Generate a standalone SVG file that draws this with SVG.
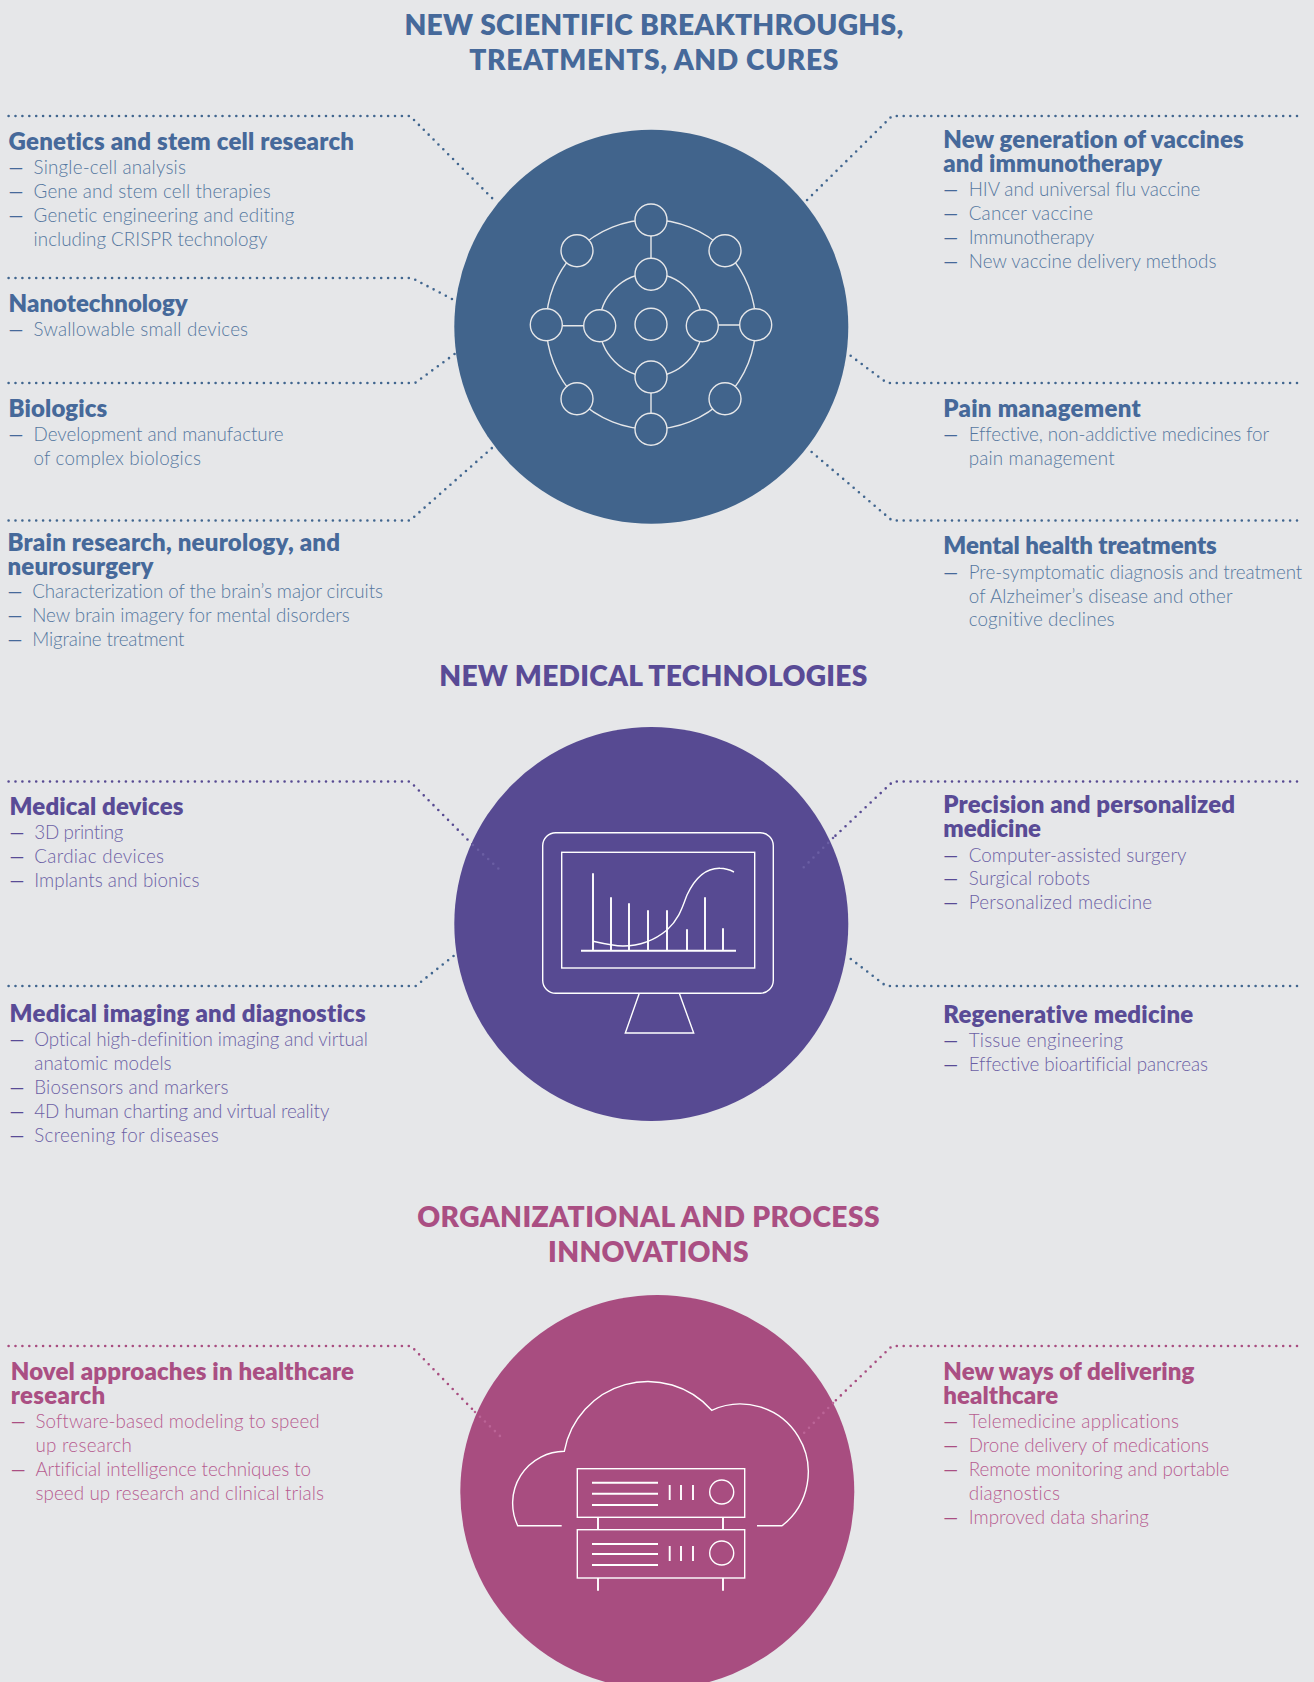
<svg xmlns="http://www.w3.org/2000/svg" width="1314" height="1682" viewBox="0 0 1314 1682">
<style>
text{font-family:"Lato","Open Sans","Liberation Sans",sans-serif;font-variant-ligatures:none}
.t{font-size:28.2px;font-weight:800;text-anchor:middle}
.h{font-size:24px;font-weight:800}
.b{font-size:18.8px;font-weight:300;transform:translateY(.6px)}
.d{font-size:18.8px;font-weight:400;transform:translateY(.6px)}
.blue{fill:#46699a}.pur{fill:#594b96}.pnk{fill:#aa4f83}
.blue.b{fill:#5577a0}.pur.b{fill:#6b5fa5}.pnk.b{fill:#b65c90}
.c{fill:none;stroke-width:2.6;stroke-linecap:round;stroke-dasharray:0 6.9}
.i{fill:none;stroke:#e6e7e9;stroke-width:1.4}
.n{fill:#41648c;stroke:#e6e7e9;stroke-width:1.4}
.w{fill:none;stroke:#fff;stroke-width:1.4}
.w2{fill:none;stroke:#fff;stroke-width:1.9}
</style>
<rect width="1314" height="1682" fill="#e6e7e9"/>
<g id="connectors">
<g stroke="#41668f" class="c">
<path d="M8.6 116H410L496 202"/><path d="M8.6 278H412L452 299"/><path d="M8.6 383H415L456 353"/><path d="M8.6 520.5H410L492 448"/>
<path d="M1297 116H892L805 202"/><path d="M1297 383H887L847 353"/><path d="M1297 520.5H892L807 448"/>
<path d="M8.6 986H415.7L456 954"/><path d="M1297 986H886L847 956"/>
</g>
<g stroke="#574a92" class="c">
<path d="M8.6 781.5H410L473 845"/><path d="M1297 781.5H893L833 838"/>
</g>
<g stroke="#a84d80" class="c">
<path d="M8.6 1346H411L475 1412"/><path d="M1297 1346H892L833 1403"/>
</g>
</g>
<g id="node-breakthroughs">
<circle cx="651.3" cy="326.7" r="197" fill="#41648c"/>
<g class="i">
<circle cx="651" cy="324.5" r="104.7"/><circle cx="651" cy="325" r="51.5"/>
<path d="M651 236V258M651 393V413M562 325.7H584M718 325H740"/>
</g>
<circle class="n" cx="651" cy="220" r="16"/><circle class="n" cx="577" cy="250.7" r="16"/><circle class="n" cx="725" cy="250.7" r="16"/><circle class="n" cx="651" cy="274.3" r="16"/>
<circle class="n" cx="546.3" cy="324.7" r="16"/><circle class="n" cx="599.7" cy="325.7" r="16"/><circle class="n" cx="651" cy="324.3" r="16"/><circle class="n" cx="702.3" cy="325.7" r="16"/><circle class="n" cx="755.7" cy="324.7" r="16"/>
<circle class="n" cx="651" cy="377" r="16"/><circle class="n" cx="577" cy="398.7" r="16"/><circle class="n" cx="725" cy="398.7" r="16"/><circle class="n" cx="651" cy="429.3" r="16"/>
</g>
<g id="node-technologies">
<circle cx="651.3" cy="924" r="197" fill="#574a92"/>
<g stroke="#6a5ea3" class="c"><path d="M473 845L500 870"/><path d="M833 838L803 868"/></g>
<g class="w">
<rect x="542.7" y="832.7" width="230.6" height="160.6" rx="13"/>
<rect x="561.7" y="852.3" width="193" height="115.7"/>
<path d="M639.3 993.3L625.3 1033H693.7L679.3 993.3"/>
<path d="M593 941.3C605 944 615 946 623 946C640 946 655 940 667 930C680 918 683 905 687 895C696 876 708 868 720 868.3C725 868.3 730 870 734 872"/>
</g>
<path class="w2" d="M581 950.7H736M593 950.7V873.3M611 950.7V897.3M629 950.7V903.3M648 950.7V910.3M667 950.7V910.3M687 950.7V929.3M705 950.7V897.3M723 950.7V928.3"/>
</g>
<g id="node-innovations">
<circle cx="657.3" cy="1492" r="197" fill="#a84d80"/>
<g stroke="#bb6496" class="c"><path d="M475 1412L500 1436"/><path d="M833 1403L803 1434"/></g>
<path class="w" d="M561.7 1525.7H517.7A52 52 0 0 1 564.3 1451.3A85 85 0 0 1 711.7 1410.3A68 68 0 0 1 782 1525.7H757"/>
<rect class="w" x="577.3" y="1468.7" width="167.4" height="48.6"/><rect class="w" x="577.3" y="1529.7" width="167.4" height="48.3"/>
<circle class="w" cx="721.7" cy="1492" r="12"/><circle class="w" cx="721.7" cy="1553" r="12"/>
<path class="w2" d="M598 1517.3V1529.7M723 1517.3V1529.7M598 1578V1590.7M723 1578V1590.7M592 1482.7H658M592 1493.7H658M592 1505H658M592 1544H658M592 1554H658M592 1565H658M669.7 1485V1500M681 1485V1500M693 1485V1500M669.7 1546V1561M681 1546V1561M693 1546V1561"/>
</g>
<g id="titles">
<text class="t blue" x="653.8" y="35" textLength="498.8">NEW SCIENTIFIC BREAKTHROUGHS,</text>
<text class="t blue" x="653.8" y="69.6" textLength="369">TREATMENTS, AND CURES</text>
<text class="t pur" x="653.3" y="686" textLength="428">NEW MEDICAL TECHNOLOGIES</text>
<text class="t pnk" x="648.4" y="1227" textLength="462.3">ORGANIZATIONAL AND PROCESS</text>
<text class="t pnk" x="648.4" y="1262" textLength="200.6">INNOVATIONS</text>
</g>
<g id="genetics"><text class="h blue" x="8.6" y="150" textLength="345.4">Genetics and stem cell research</text>
<text class="d blue" x="8.4" y="173" textLength="15">—</text><text class="b blue" x="33.6" y="173" textLength="152.3">Single-cell analysis</text>
<text class="d blue" x="8.4" y="197" textLength="15">—</text><text class="b blue" x="33.6" y="197" textLength="237.1">Gene and stem cell therapies</text>
<text class="d blue" x="8.4" y="221" textLength="15">—</text><text class="b blue" x="33.6" y="221" textLength="260.7">Genetic engineering and editing</text>
<text class="b blue" x="33.6" y="245" textLength="233.9">including CRISPR technology</text></g>
<g id="nano"><text class="h blue" x="8.6" y="311.7" textLength="179.1">Nanotechnology</text>
<text class="d blue" x="8.4" y="335" textLength="15">—</text><text class="b blue" x="33.6" y="335" textLength="214.5">Swallowable small devices</text></g>
<g id="biologics"><text class="h blue" x="8.6" y="417" textLength="98.7">Biologics</text>
<text class="d blue" x="8.4" y="440.5" textLength="15">—</text><text class="b blue" x="33.6" y="440.5" textLength="249.9">Development and manufacture</text>
<text class="b blue" x="33.6" y="464.3" textLength="167.3">of complex biologics</text></g>
<g id="brain"><text class="h blue" x="7.5" y="551" textLength="332.5">Brain research, neurology, and</text>
<text class="h blue" x="7.5" y="575" textLength="145.9">neurosurgery</text>
<text class="d blue" x="7.5" y="597.8" textLength="15">—</text><text class="b blue" x="32.2" y="597.8" textLength="350.8">Characterization of the brain’s major circuits</text>
<text class="d blue" x="7.5" y="621.8" textLength="15">—</text><text class="b blue" x="32.2" y="621.8" textLength="317.5">New brain imagery for mental disorders</text>
<text class="d blue" x="7.5" y="645.8" textLength="15">—</text><text class="b blue" x="32.2" y="645.8" textLength="152.3">Migraine treatment</text></g>
<g id="vaccines"><text class="h blue" x="943.3" y="148" textLength="300.4">New generation of vaccines</text>
<text class="h blue" x="943.3" y="171.6" textLength="218.8">and immunotherapy</text>
<text class="d blue" x="943.3" y="195" textLength="15">—</text><text class="b blue" x="968.7" y="195" textLength="231.7">HIV and universal flu vaccine</text>
<text class="d blue" x="943.3" y="219.7" textLength="15">—</text><text class="b blue" x="968.7" y="219.7" textLength="124.4">Cancer vaccine</text>
<text class="d blue" x="943.3" y="243.3" textLength="15">—</text><text class="b blue" x="968.7" y="243.3" textLength="125.5">Immunotherapy</text>
<text class="d blue" x="943.3" y="267" textLength="15">—</text><text class="b blue" x="968.7" y="267" textLength="247.8">New vaccine delivery methods</text></g>
<g id="pain"><text class="h blue" x="943.3" y="417.2" textLength="197.4">Pain management</text>
<text class="d blue" x="943.3" y="440.7" textLength="15">—</text><text class="b blue" x="968.7" y="440.7" textLength="300.4">Effective, non-addictive medicines for</text>
<text class="b blue" x="968.7" y="464.5" textLength="145.9">pain management</text></g>
<g id="mental"><text class="h blue" x="943.3" y="554" textLength="273.5">Mental health treatments</text>
<text class="d blue" x="943.3" y="578" textLength="15">—</text><text class="b blue" x="968.7" y="578" textLength="333.6">Pre-symptomatic diagnosis and treatment</text>
<text class="b blue" x="968.7" y="602" textLength="263.9">of Alzheimer’s disease and other</text>
<text class="b blue" x="968.7" y="625" textLength="145.9">cognitive declines</text></g>
<g id="devices"><text class="h pur" x="9.6" y="815" textLength="173.8">Medical devices</text>
<text class="d pur" x="9.6" y="838.7" textLength="15">—</text><text class="b pur" x="34.3" y="838.7" textLength="89">3D printing</text>
<text class="d pur" x="9.6" y="862" textLength="15">—</text><text class="b pur" x="34.3" y="862" textLength="129.8">Cardiac devices</text>
<text class="d pur" x="9.6" y="886.8" textLength="15">—</text><text class="b pur" x="34.3" y="886.8" textLength="165.2">Implants and bionics</text></g>
<g id="imaging"><text class="h pur" x="9.6" y="1022.2" textLength="356.1">Medical imaging and diagnostics</text>
<text class="d pur" x="9.6" y="1045.2" textLength="15">—</text><text class="b pur" x="34.3" y="1045.2" textLength="333.6">Optical high-definition imaging and virtual</text>
<text class="b pur" x="34.3" y="1069" textLength="137.3">anatomic models</text>
<text class="d pur" x="9.6" y="1093.8" textLength="15">—</text><text class="b pur" x="34.3" y="1093.8" textLength="194.2">Biosensors and markers</text>
<text class="d pur" x="9.6" y="1117.3" textLength="15">—</text><text class="b pur" x="34.3" y="1117.3" textLength="295">4D human charting and virtual reality</text>
<text class="d pur" x="9.6" y="1141.2" textLength="15">—</text><text class="b pur" x="34.3" y="1141.2" textLength="184.5">Screening for diseases</text></g>
<g id="precision"><text class="h pur" x="943.3" y="813" textLength="291.8">Precision and personalized</text>
<text class="h pur" x="943.3" y="836.6" textLength="97.6">medicine</text>
<text class="d pur" x="943.3" y="861" textLength="15">—</text><text class="b pur" x="968.7" y="861" textLength="217.8">Computer-assisted surgery</text>
<text class="d pur" x="943.3" y="884.7" textLength="15">—</text><text class="b pur" x="968.7" y="884.7" textLength="121.2">Surgical robots</text>
<text class="d pur" x="943.3" y="908.3" textLength="15">—</text><text class="b pur" x="968.7" y="908.3" textLength="183.4">Personalized medicine</text></g>
<g id="regenerative"><text class="h pur" x="943.3" y="1023.3" textLength="249.9">Regenerative medicine</text>
<text class="d pur" x="943.3" y="1046.8" textLength="15">—</text><text class="b pur" x="968.7" y="1046.8" textLength="154.5">Tissue engineering</text>
<text class="d pur" x="943.3" y="1070.2" textLength="15">—</text><text class="b pur" x="968.7" y="1070.2" textLength="239.2">Effective bioartificial pancreas</text></g>
<g id="novel"><text class="h pnk" x="10.7" y="1380" textLength="343.3">Novel approaches in healthcare</text>
<text class="h pnk" x="10.7" y="1404" textLength="94.4">research</text>
<text class="d pnk" x="10.7" y="1427.6" textLength="15">—</text><text class="b pnk" x="35.4" y="1427.6" textLength="284.3">Software-based modeling to speed</text>
<text class="b pnk" x="35.4" y="1451.2" textLength="96.5">up research</text>
<text class="d pnk" x="10.7" y="1475.8" textLength="15">—</text><text class="b pnk" x="35.4" y="1475.8" textLength="275.7">Artificial intelligence techniques to</text>
<text class="b pnk" x="35.4" y="1499.4" textLength="288.6">speed up research and clinical trials</text></g>
<g id="delivering"><text class="h pnk" x="943.3" y="1380" textLength="251">New ways of delivering</text>
<text class="h pnk" x="943.3" y="1404" textLength="114.8">healthcare</text>
<text class="d pnk" x="943.3" y="1427.6" textLength="15">—</text><text class="b pnk" x="968.7" y="1427.6" textLength="210.3">Telemedicine applications</text>
<text class="d pnk" x="943.3" y="1451.2" textLength="15">—</text><text class="b pnk" x="968.7" y="1451.2" textLength="240.3">Drone delivery of medications</text>
<text class="d pnk" x="943.3" y="1475.8" textLength="15">—</text><text class="b pnk" x="968.7" y="1475.8" textLength="260.7">Remote monitoring and portable</text>
<text class="b pnk" x="968.7" y="1499.4" textLength="91.2">diagnostics</text>
<text class="d pnk" x="943.3" y="1523.1" textLength="15">—</text><text class="b pnk" x="968.7" y="1523.1" textLength="180.2">Improved data sharing</text></g>
</svg>
